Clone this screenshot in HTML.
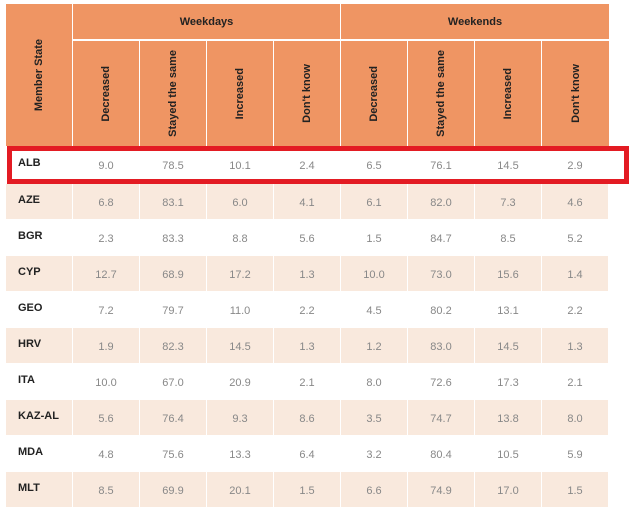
<!DOCTYPE html><html><head><style>
body{margin:0;width:636px;height:511px;background:#fff;position:relative;overflow:hidden;font-family:"Liberation Sans",sans-serif}
.c{position:absolute;box-sizing:border-box}
.h{background:#ef9563;color:#222;font-weight:bold;font-size:11px;display:flex;align-items:center;justify-content:center}
.rot{writing-mode:vertical-rl;transform:rotate(180deg);white-space:nowrap}
.r{position:absolute;left:6px;width:603px;height:35px;display:flex;gap:1px}
.r div{width:66px;height:35px;font-size:11px;color:#888;display:flex;align-items:center;justify-content:center;padding-top:2px;box-sizing:border-box}
.r div.l{justify-content:flex-start;align-items:flex-start;font-weight:bold;color:#222;padding-left:12px;padding-top:10px}
.b div{background:#f9e9dd}
</style></head><body>
<div class="c h" style="left:6px;top:4px;width:66px;height:142px"><span class="rot">Member State</span></div>
<div class="c h" style="left:73px;top:4px;width:267px;height:35px">Weekdays</div>
<div class="c h" style="left:341px;top:4px;width:268px;height:35px">Weekends</div>
<div class="c h" style="left:73px;top:41px;width:66px;height:105px"><span class="rot">Decreased</span></div>
<div class="c h" style="left:140px;top:41px;width:66px;height:105px"><span class="rot">Stayed the same</span></div>
<div class="c h" style="left:207px;top:41px;width:66px;height:105px"><span class="rot">Increased</span></div>
<div class="c h" style="left:274px;top:41px;width:66px;height:105px"><span class="rot">Don't know</span></div>
<div class="c h" style="left:341px;top:41px;width:66px;height:105px"><span class="rot">Decreased</span></div>
<div class="c h" style="left:408px;top:41px;width:66px;height:105px"><span class="rot">Stayed the same</span></div>
<div class="c h" style="left:475px;top:41px;width:66px;height:105px"><span class="rot">Increased</span></div>
<div class="c h" style="left:542px;top:41px;width:67px;height:105px"><span class="rot">Don't know</span></div>

<div class="r" style="top:147px"><div class="l">ALB</div><div>9.0</div><div>78.5</div><div>10.1</div><div>2.4</div><div>6.5</div><div>76.1</div><div>14.5</div><div>2.9</div></div>
<div class="r b" style="top:184px"><div class="l">AZE</div><div>6.8</div><div>83.1</div><div>6.0</div><div>4.1</div><div>6.1</div><div>82.0</div><div>7.3</div><div>4.6</div></div>
<div class="r" style="top:220px"><div class="l">BGR</div><div>2.3</div><div>83.3</div><div>8.8</div><div>5.6</div><div>1.5</div><div>84.7</div><div>8.5</div><div>5.2</div></div>
<div class="r b" style="top:256px"><div class="l">CYP</div><div>12.7</div><div>68.9</div><div>17.2</div><div>1.3</div><div>10.0</div><div>73.0</div><div>15.6</div><div>1.4</div></div>
<div class="r" style="top:292px"><div class="l">GEO</div><div>7.2</div><div>79.7</div><div>11.0</div><div>2.2</div><div>4.5</div><div>80.2</div><div>13.1</div><div>2.2</div></div>
<div class="r b" style="top:328px"><div class="l">HRV</div><div>1.9</div><div>82.3</div><div>14.5</div><div>1.3</div><div>1.2</div><div>83.0</div><div>14.5</div><div>1.3</div></div>
<div class="r" style="top:364px"><div class="l">ITA</div><div>10.0</div><div>67.0</div><div>20.9</div><div>2.1</div><div>8.0</div><div>72.6</div><div>17.3</div><div>2.1</div></div>
<div class="r b" style="top:400px"><div class="l">KAZ-AL</div><div>5.6</div><div>76.4</div><div>9.3</div><div>8.6</div><div>3.5</div><div>74.7</div><div>13.8</div><div>8.0</div></div>
<div class="r" style="top:436px"><div class="l">MDA</div><div>4.8</div><div>75.6</div><div>13.3</div><div>6.4</div><div>3.2</div><div>80.4</div><div>10.5</div><div>5.9</div></div>
<div class="r b" style="top:472px"><div class="l">MLT</div><div>8.5</div><div>69.9</div><div>20.1</div><div>1.5</div><div>6.6</div><div>74.9</div><div>17.0</div><div>1.5</div></div>

<div class="c" style="left:7px;top:146px;width:622px;height:38px;border:5px solid #e31b23"></div>
</body></html>
